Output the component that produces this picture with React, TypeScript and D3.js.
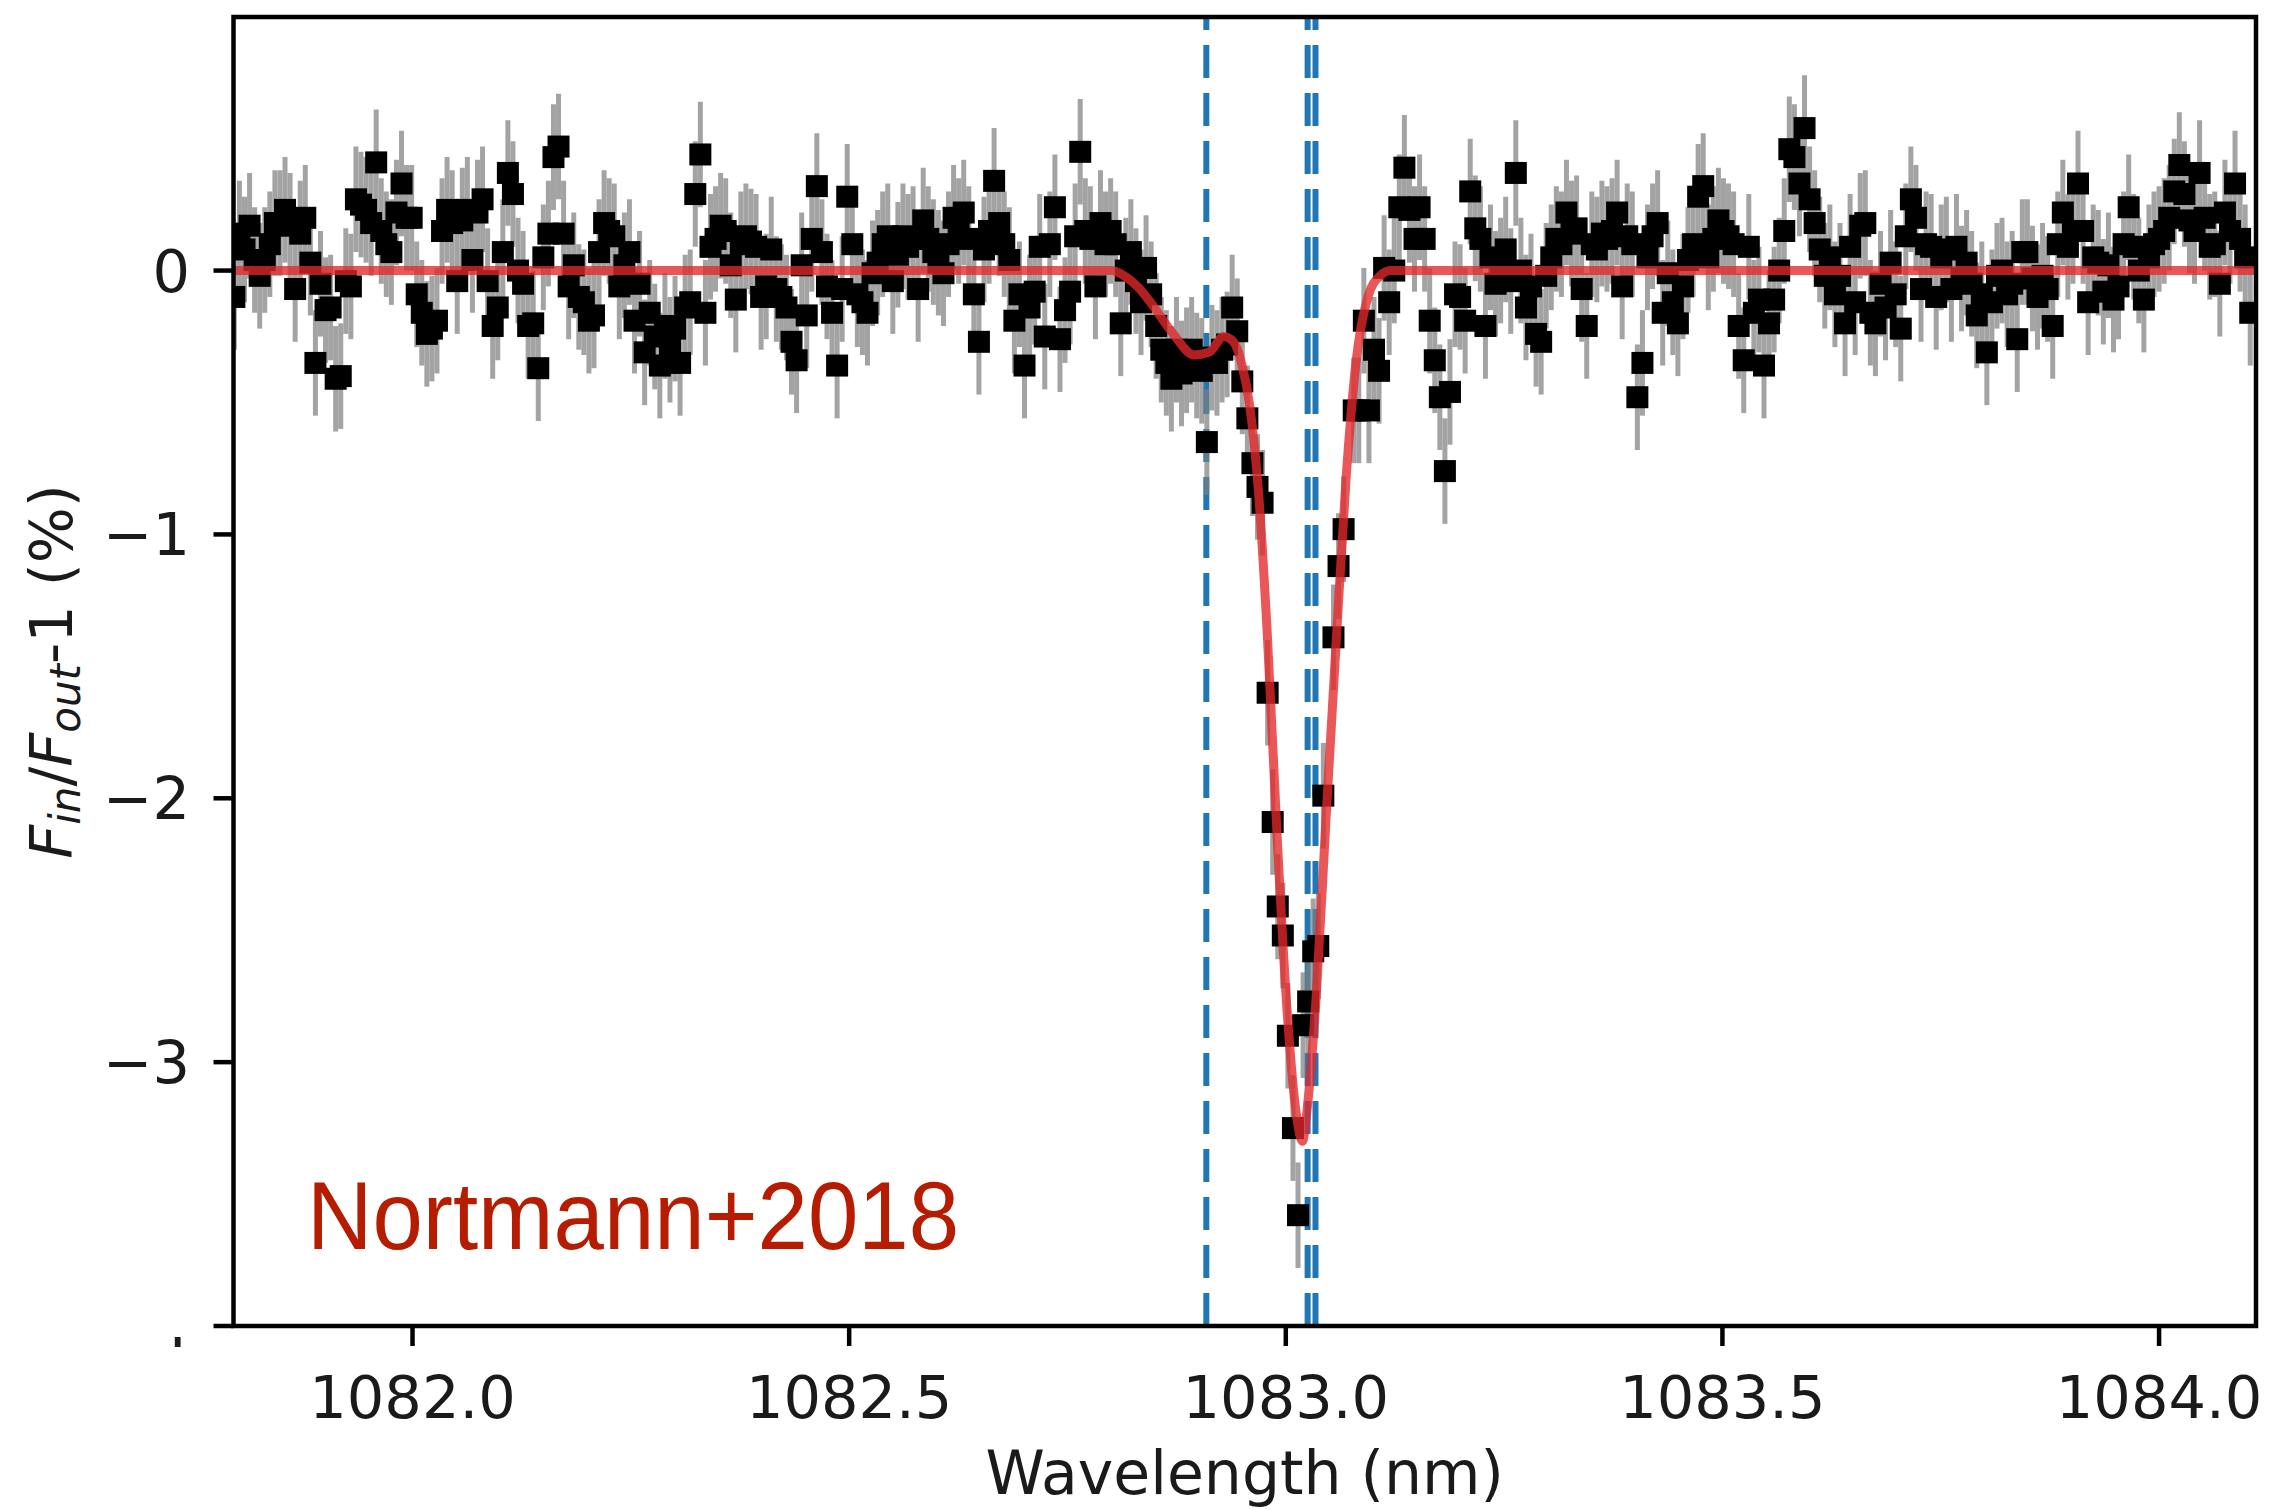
import React from "react";
import * as d3 from "d3";

// Canvas and axes frame (pixels)
const WIDTH = 2269;
const HEIGHT = 1510;
const FRAME = { left: 233.5, right: 2256, top: 17, bottom: 1326 };

// Axis limits and ticks
const X_DOMAIN: [number, number] = [1081.795, 1084.111];
const Y_DOMAIN: [number, number] = [-4, 0.961];
const X_TICKS = [1082.0, 1082.5, 1083.0, 1083.5, 1084.0];
const Y_TICKS = [0, -1, -2, -3];
const Y_TICK_CLIPPED = -4;

// He I triplet rest wavelengths (nm, vacuum)
const HE_LINES = [1082.909, 1083.025, 1083.034];

// Transmission spectrum: wavelength grid and excess absorption (%)
const LAMBDA_START = 1081.796;
const LAMBDA_STEP = 0.0058;
const EXCESS: (number | null)[] = [
  -0.10, 0.14, 0.08, 0.17, 0.04, -0.02, 0.04, 0.10, 0.18, 0.18,
  0.23, 0.17, -0.07, 0.14, 0.20, 0.03, -0.35, -0.05, -0.15, -0.14,
  -0.41, -0.40, -0.04, -0.06, 0.27, 0.25, 0.23, 0.18, 0.41, 0.15,
  0.10, 0.07, 0.22, 0.33, 0.20, 0.20, -0.09, -0.16, -0.24, -0.22,
  -0.19, 0.15, 0.23, 0.18, -0.04, 0.19, 0.23, 0.04, 0.22, 0.27,
  -0.04, -0.21, -0.14, 0.07, 0.37, 0.29, 0.00, -0.05, -0.21, -0.20,
  -0.37, 0.05, 0.14, 0.43, 0.47, 0.14, -0.06, 0.02, -0.10, -0.12,
  -0.19, -0.17, 0.07, 0.18, 0.15, 0.13, -0.06, 0.02, 0.07, -0.19,
  -0.05, -0.31, -0.16, -0.25, -0.36, -0.21, -0.30, -0.22, -0.35, -0.14,
  -0.12, 0.29, 0.44, -0.16, 0.09, 0.12, 0.17, 0.15, 0.02, -0.11,
  0.10, 0.13, 0.11, 0.09, -0.10, -0.06, 0.08, -0.07, -0.10, -0.14,
  -0.27, -0.34, 0.02, -0.17, 0.12, 0.32, 0.07, -0.06, -0.16, -0.36,
  -0.07, 0.28, 0.10, -0.09, -0.12, -0.16, -0.01, 0.03, 0.10, 0.13,
  -0.04, 0.06, 0.13, 0.09, 0.12, -0.07, 0.19, 0.12, 0.07, 0.03,
  -0.01, 0.10, 0.20, 0.15, 0.22, 0.12, -0.09, -0.27, 0.08, 0.15,
  0.34, 0.18, 0.10, 0.04, -0.19, -0.09, -0.36, -0.14, -0.08, 0.09,
  -0.25, 0.10, 0.24, -0.26, -0.15, -0.08, 0.13, 0.45, 0.15, 0.12,
  -0.06, 0.18, 0.10, 0.15, 0.10, -0.20, 0.00, 0.07, -0.04, -0.12,
  0.01, -0.09, -0.21, -0.30, -0.35, -0.41, -0.30, -0.39, -0.34, -0.30,
  -0.36, -0.38, -0.65, -0.33, -0.35, -0.30, -0.28, -0.14, -0.23, -0.42,
  -0.56, -0.73, -0.82, -0.88, -1.60, -2.09, -2.41, -2.52, -2.90, -3.25,
  -3.58, -2.86, -2.77, -2.58, -2.56, -1.99, null, -1.39, -1.12, -0.98,
  null, -0.53, -0.53, -0.19, -0.53, -0.30, -0.38, 0.01, -0.12, 0.00,
  0.24, 0.39, 0.23, 0.12, 0.24, 0.12, -0.19, -0.34, -0.48, -0.76,
  -0.46, -0.09, -0.10, -0.19, 0.30, 0.16, 0.12, -0.21, 0.05, -0.05,
  0.00, 0.08, -0.04, 0.37, 0.00, -0.14, -0.06, -0.24, -0.27, -0.02,
  0.05, 0.12, 0.10, 0.22, 0.14, 0.16, -0.07, -0.21, 0.10, 0.08,
  0.14, 0.12, 0.15, 0.22, -0.06, 0.13, 0.10, -0.48, -0.35, 0.05,
  0.13, 0.18, -0.16, -0.01, -0.12, -0.20, -0.06, 0.04, 0.10, 0.28,
  0.32, 0.05, 0.12, 0.19, 0.15, 0.13, 0.10, -0.21, -0.34, 0.09,
  -0.16, -0.11, -0.36, -0.20, -0.11, 0.00, 0.15, 0.46, 0.43, 0.33,
  0.54, 0.27, 0.18, 0.08, -0.02, 0.05, -0.09, -0.02, -0.20, 0.09,
  -0.12, 0.17, 0.18, -0.16, -0.20, -0.05, -0.14, 0.03, -0.09, -0.22,
  0.13, 0.27, 0.20, -0.07, 0.10, 0.09, -0.10, 0.05, 0.08, -0.07,
  0.09, -0.03, 0.03, -0.05, -0.17, -0.09, -0.31, -0.12, -0.02, 0.00,
  -0.09, -0.05, -0.26, 0.07, 0.07, -0.03, -0.10, -0.02, -0.07, -0.21,
  0.10, 0.22, 0.09, 0.15, 0.33, 0.15, -0.12, 0.05, 0.03, -0.08,
  0.02, -0.11, -0.06, 0.10, 0.24, 0.09, 0.00, -0.11, 0.05, 0.10,
  0.12, 0.15, 0.20, 0.30, 0.40, 0.29, 0.19, 0.15, 0.37, 0.20,
  0.09, 0.10, -0.05, 0.22, 0.15, 0.33, 0.12, 0.05, -0.16,
];
const EXCESS_ERR = 0.2;

// Best-fit absorption model (nm, %)
const MODEL_WAVE = [
  1081.795, 1082.8, 1082.815, 1082.83, 1082.845, 1082.871, 1082.895,
  1082.912, 1082.929, 1082.94, 1082.95, 1082.959, 1082.969, 1082.979,
  1082.99, 1083.002, 1083.013, 1083.019, 1083.025, 1083.035, 1083.046,
  1083.058, 1083.069, 1083.08, 1083.095, 1083.108, 1083.12, 1084.111,
];
const MODEL_VALUE = [
  0, 0, -0.02, -0.06, -0.12, -0.24, -0.32,
  -0.31, -0.25, -0.27, -0.36, -0.52, -0.85, -1.39,
  -2.14, -2.83, -3.22, -3.3, -3.16, -2.74, -2.08,
  -1.39, -0.79, -0.36, -0.09, -0.02, 0, 0,
];

const TEXT_FONT = "'DejaVu Sans', sans-serif";
const TEXT_SIZE = 59;

export default function App() {
  const x = d3.scaleLinear().domain(X_DOMAIN).range([FRAME.left, FRAME.right]);
  const y = d3.scaleLinear().domain(Y_DOMAIN).range([FRAME.bottom, FRAME.top]);

  const points = EXCESS.map((v, i) => ({
    w: LAMBDA_START + i * LAMBDA_STEP,
    v,
  })).filter((p) => p.v !== null) as { w: number; v: number }[];

  const model = MODEL_WAVE.map((w, i) => ({ w, v: MODEL_VALUE[i] }));
  const modelPath = d3
    .line<{ w: number; v: number }>()
    .x((d) => x(d.w))
    .y((d) => y(d.v))
    .curve(d3.curveMonotoneX)(model) as string;

  const MARK = 22;
  const TICK = 20;
  const midY = (FRAME.top + FRAME.bottom) / 2;
  const midX = (FRAME.left + FRAME.right) / 2;

  return (
    <svg
      width={WIDTH}
      height={HEIGHT}
      style={{ position: "absolute", left: 0, top: 0, background: "#fff" }}
    >
      <defs>
        <clipPath id="plot-area">
          <rect
            x={FRAME.left}
            y={FRAME.top}
            width={FRAME.right - FRAME.left}
            height={FRAME.bottom - FRAME.top}
          />
        </clipPath>
        <clipPath id="low-label">
          <rect x={140} y={1337} width={60} height={14} />
        </clipPath>
      </defs>
      <rect x={0} y={0} width={WIDTH} height={HEIGHT} fill="#fff" />

      <g clipPath="url(#plot-area)">
        {HE_LINES.map((w) => (
          <line
            key={w}
            x1={x(w)}
            x2={x(w)}
            y1={FRAME.bottom}
            y2={FRAME.top}
            stroke="#1f77b4"
            strokeWidth={6}
            strokeDasharray="33 15"
          />
        ))}
        <g stroke="#808080" strokeOpacity={0.72} strokeWidth={5}>
          {points.map((p, i) => (
            <line
              key={i}
              x1={x(p.w)}
              x2={x(p.w)}
              y1={y(p.v - EXCESS_ERR)}
              y2={y(p.v + EXCESS_ERR)}
            />
          ))}
        </g>
        <g fill="#000">
          {points.map((p, i) => (
            <rect
              key={i}
              x={x(p.w) - MARK / 2}
              y={y(p.v) - MARK / 2}
              width={MARK}
              height={MARK}
            />
          ))}
        </g>
        <path
          d={modelPath}
          fill="none"
          stroke="#e3282a"
          strokeOpacity={0.78}
          strokeWidth={9}
          strokeLinejoin="round"
        />
      </g>

      {/* frame */}
      <rect
        x={FRAME.left}
        y={FRAME.top}
        width={FRAME.right - FRAME.left}
        height={FRAME.bottom - FRAME.top}
        fill="none"
        stroke="#000"
        strokeWidth={4.5}
      />

      {/* x axis */}
      {X_TICKS.map((t) => (
        <g key={t}>
          <line
            x1={x(t)}
            x2={x(t)}
            y1={FRAME.bottom}
            y2={FRAME.bottom + TICK}
            stroke="#000"
            strokeWidth={4.5}
          />
          <text
            x={x(t)}
            y={1418}
            textAnchor="middle"
            fontFamily={TEXT_FONT}
            fontSize={TEXT_SIZE}
            fill="#1a1a1a"
          >
            {t.toFixed(1)}
          </text>
        </g>
      ))}
      <text
        x={midX}
        y={1494}
        textAnchor="middle"
        fontFamily={TEXT_FONT}
        fontSize={TEXT_SIZE + 1}
        fill="#1a1a1a"
      >
        Wavelength (nm)
      </text>

      {/* y axis */}
      {[...Y_TICKS, Y_TICK_CLIPPED].map((t) => (
        <line
          key={t}
          x1={FRAME.left - TICK}
          x2={FRAME.left}
          y1={y(t)}
          y2={y(t)}
          stroke="#000"
          strokeWidth={4.5}
        />
      ))}
      {Y_TICKS.map((t) => (
        <text
          key={t}
          x={190}
          y={y(t) + 21}
          textAnchor="end"
          fontFamily={TEXT_FONT}
          fontSize={TEXT_SIZE}
          fill="#1a1a1a"
        >
          {t === 0 ? "0" : `\u2212${Math.abs(t)}`}
        </text>
      ))}
      <text
        x={190}
        y={y(Y_TICK_CLIPPED) + 21}
        textAnchor="end"
        fontFamily={TEXT_FONT}
        fontSize={TEXT_SIZE}
        fill="#1a1a1a"
        clipPath="url(#low-label)"
      >
        {`\u2212${Math.abs(Y_TICK_CLIPPED)}`}
      </text>

      <text
        transform={`translate(72, ${midY}) rotate(-90)`}
        textAnchor="middle"
        fontFamily={TEXT_FONT}
        fontSize={TEXT_SIZE}
        fill="#1a1a1a"
      >
        <tspan fontStyle="italic">F</tspan>
        <tspan fontStyle="italic" fontSize={42} dy={8}>
          in
        </tspan>
        <tspan dy={-8}>/</tspan>
        <tspan fontStyle="italic">F</tspan>
        <tspan fontStyle="italic" fontSize={42} dy={8}>
          out
        </tspan>
        <tspan dy={-8}>-1 (%)</tspan>
      </text>

      <text
        x={307}
        y={1249}
        fontFamily="'Liberation Sans', Arial, sans-serif"
        fontSize={97}
        fill="#b51c00"
        textLength={652}
        lengthAdjust="spacingAndGlyphs"
      >
        Nortmann+2018
      </text>
    </svg>
  );
}
